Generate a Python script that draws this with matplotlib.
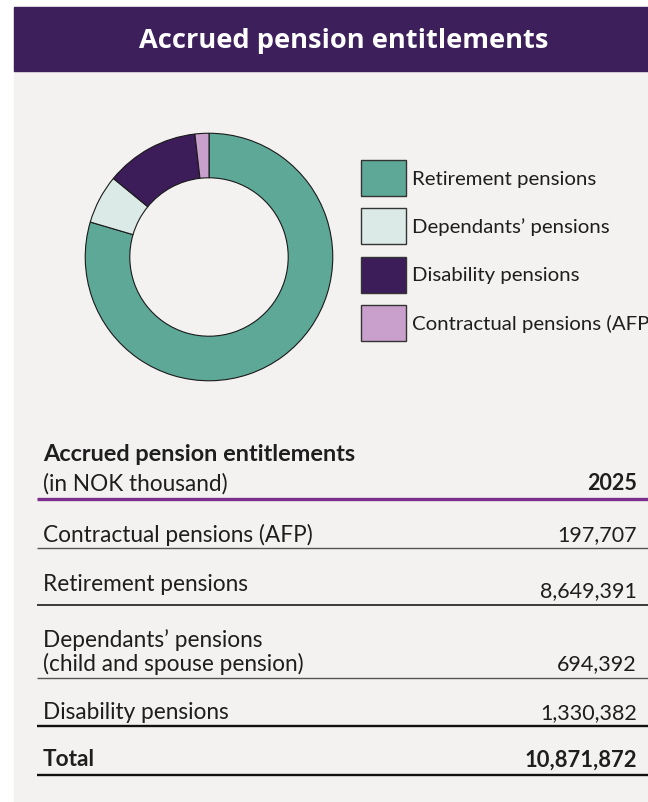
import matplotlib
matplotlib.use("Agg")
import matplotlib.pyplot as plt
from matplotlib.patches import Rectangle

# ---- data ----
title = "Accrued pension entitlements"
categories = ["Retirement pensions", "Dependants\u2019 pensions",
              "Disability pensions", "Contractual pensions (AFP)"]
cat_values = [8649391, 694392, 1330382, 197707]
cat_colors = ["#5ea898", "#dbeae6", "#3c1d5a", "#c9a0cc"]

table_title = "Accrued pension entitlements"
table_subtitle = "(in NOK thousand)"
year_label = "2025"
row_labels = ["Contractual pensions (AFP)", "Retirement pensions",
              "Dependants\u2019 pensions\n(child and spouse pension)",
              "Disability pensions"]
row_values = [197707, 8649391, 694392, 1330382]
total_label = "Total"

W, H = 648, 803
fig = plt.figure(figsize=(W / 100, H / 100), dpi=100)
fig.patch.set_facecolor("white")

base = fig.add_axes([0, 0, 1, 1])
base.set_xlim(0, W)
base.set_ylim(H, 0)
base.axis("off")

# panel + header band
base.add_patch(Rectangle((14, 8), W - 14, H - 8, color="#f3f2f0", zorder=0))
base.add_patch(Rectangle((14, 8), W - 14, 64, color="#3d1f5c", zorder=1))
base.text(344, 41, title, color="white", fontsize=19.6, fontweight="bold",
          family="Open Sans", ha="center", va="center", zorder=2)

# donut
cx, cy, r = 209, 258, 125
pax = fig.add_axes([(cx - r) / W, 1 - (cy + r) / H, 2 * r / W, 2 * r / H])
pax.pie(cat_values, colors=cat_colors, startangle=90, counterclock=False,
        radius=1, wedgeprops=dict(width=0.36, edgecolor="#1a1a1a", linewidth=0.8))
pax.set_xlim(-1.01, 1.01)
pax.set_ylim(-1.01, 1.01)
pax.set_aspect("equal")
pax.axis("off")

# legend
font = "Lato"
lx, ly0, step = 361, 161, 48.3
for i, (name, col) in enumerate(zip(categories, cat_colors)):
    y = ly0 + i * step
    base.add_patch(Rectangle((lx, y), 45, 36, facecolor=col, edgecolor="#333333",
                             linewidth=1.0, zorder=3))
    base.text(412, y + 18, name, fontsize=14.7, family=font, color="#1e1e1e",
              ha="left", va="center", zorder=3)

# table
txt = "#1e1e1e"
fs_lab, fs_num = 16.3, 15.5
lx0, rx = 43, 637
base.text(lx0, 455, table_title, fontsize=16.9, fontweight="bold", family=font,
          color=txt, ha="left", va="center")
base.text(lx0, 484, table_subtitle, fontsize=fs_lab, family=font, color=txt,
          ha="left", va="center")
base.text(rx, 484, year_label, fontsize=fs_num, fontweight="bold", family=font,
          color=txt, ha="right", va="center")
base.plot([37, W], [500, 500], color="#7b2e8c", lw=2.4, solid_capstyle="butt")

label_y = [535, 585, 640, 713]
value_y = [535, 591, 664, 713]
line_y = [549, 606, 679, 727]
line_w = [1.0, 1.2, 1.0, 1.7]
line_c = ["#555555", "#1a1a1a", "#555555", "#111111"]
for lab, val, yl, yv, yline, lw, lc in zip(row_labels, row_values, label_y,
                                           value_y, line_y, line_w, line_c):
    for k, part in enumerate(lab.split("\n")):
        base.text(lx0, yl + 24 * k, part, fontsize=fs_lab, family=font, color=txt,
                  ha="left", va="center")
    base.text(rx, yv, f"{val:,}", fontsize=fs_num, family=font, color=txt,
              ha="right", va="center")
    base.plot([37, W], [yline, yline], color=lc, lw=lw, solid_capstyle="butt")

total = sum(row_values)
base.text(lx0, 760, total_label, fontsize=fs_lab, fontweight="bold", family=font,
          color=txt, ha="left", va="center")
base.text(rx, 760, f"{total:,}", fontsize=15.8, fontweight="bold", family=font,
          color=txt, ha="right", va="center")
base.plot([37, W], [776, 776], color="#111111", lw=1.7, solid_capstyle="butt")

fig.savefig("out.png", dpi=100, facecolor=fig.get_facecolor())
